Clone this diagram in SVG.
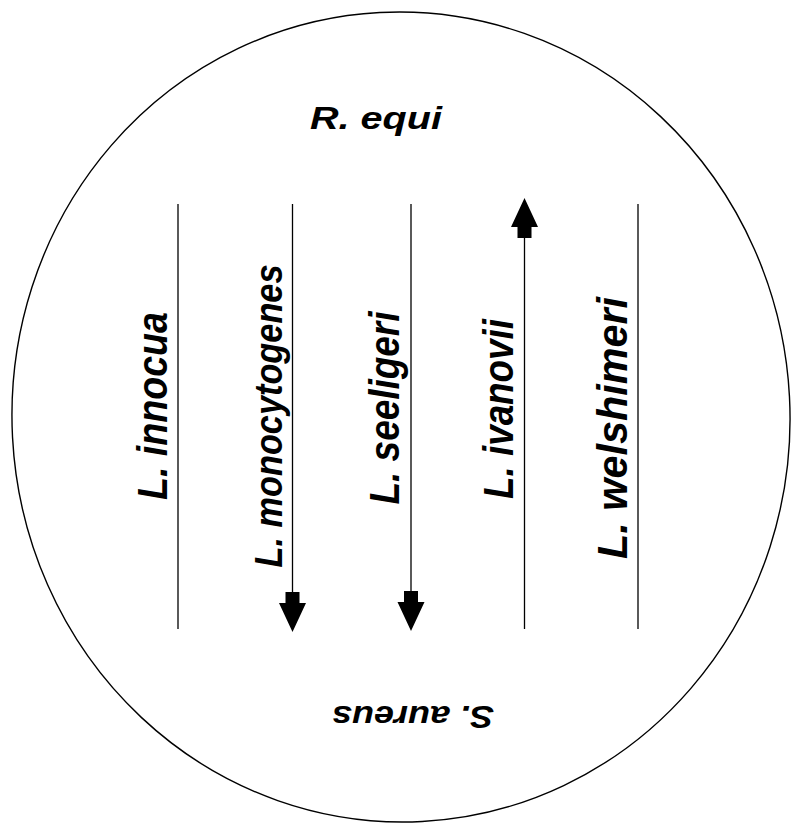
<svg xmlns="http://www.w3.org/2000/svg" xmlns:xlink="http://www.w3.org/1999/xlink" width="792" height="837" viewBox="0 0 792 837">
<style>
  .lbl { font-family: "Liberation Sans", Arial, sans-serif; font-weight: bold; font-style: italic; fill: #000; }
  .ln { stroke: #000; stroke-width: 1.3; fill: none; }
  .plate { stroke: #000; stroke-width: 1.4; fill: #fff; }
  .head { fill: #000; stroke: none; }
</style>
<defs>
  <polygon id="arrowDown" class="head" points="-7,-40 7,-40 7,-29 13.5,-29 0,0 -13.5,-29 -7,-29"/>
</defs>
<rect width="792" height="837" fill="#fff"/>
<g id="plate">
  <ellipse class="plate" cx="401" cy="417" rx="389" ry="405" transform="rotate(-3 401 417)"/>
</g>
<g id="connectors">
  <line class="ln" x1="178" y1="204" x2="178" y2="629"/>
  <line class="ln" x1="292.5" y1="204" x2="292.5" y2="595"/>
  <use xlink:href="#arrowDown" href="#arrowDown" transform="translate(292.5,632)"/>
  <line class="ln" x1="411" y1="204" x2="411" y2="593"/>
  <use xlink:href="#arrowDown" href="#arrowDown" transform="translate(411,631)"/>
  <line class="ln" x1="524.5" y1="629" x2="524.5" y2="236"/>
  <use xlink:href="#arrowDown" href="#arrowDown" transform="translate(524.5,198) rotate(180)"/>
  <line class="ln" x1="638" y1="204" x2="638" y2="629"/>
</g>
<g id="r-equi">
  <text class="lbl" x="376" y="129" font-size="32" text-anchor="middle" textLength="132" lengthAdjust="spacingAndGlyphs">R. equi</text>
</g>
<g id="s-aureus">
  <text class="lbl" transform="translate(413,706) rotate(180)" x="0" y="0" font-size="32" text-anchor="middle" textLength="162" lengthAdjust="spacingAndGlyphs">S. aureus</text>
</g>
<g id="l-innocua">
  <text class="lbl" transform="translate(167,406) rotate(-90)" font-size="42" text-anchor="middle" textLength="188" lengthAdjust="spacingAndGlyphs">L. innocua</text>
</g>
<g id="l-monocytogenes">
  <text class="lbl" transform="translate(282,416) rotate(-90)" font-size="38" text-anchor="middle" textLength="303" lengthAdjust="spacingAndGlyphs">L. monocytogenes</text>
</g>
<g id="l-seeligeri">
  <text class="lbl" transform="translate(399,408) rotate(-90)" font-size="42" text-anchor="middle" textLength="193" lengthAdjust="spacingAndGlyphs">L. seeligeri</text>
</g>
<g id="l-ivanovii">
  <text class="lbl" transform="translate(513,409) rotate(-90)" font-size="42" text-anchor="middle" textLength="180" lengthAdjust="spacingAndGlyphs">L. ivanovii</text>
</g>
<g id="l-welshimeri">
  <text class="lbl" transform="translate(627,428) rotate(-90)" font-size="42" text-anchor="middle" textLength="262" lengthAdjust="spacingAndGlyphs">L. welshimeri</text>
</g>
</svg>
